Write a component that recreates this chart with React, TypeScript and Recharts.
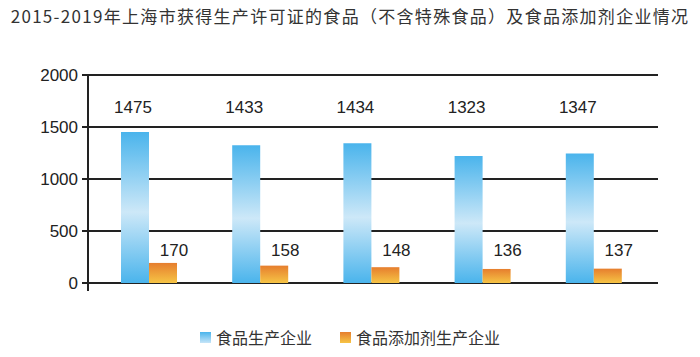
import { BarChart, Bar, XAxis, YAxis, CartesianGrid, Legend, LabelList } from 'recharts';

// values (bar heights) and the printed labels
const years = ['2015', '2016', '2017', '2018', '2019'];
const foodBars = [1452, 1324, 1343, 1222, 1246];
const additiveBars = [193, 167, 152, 135, 138];
const foodLabels = [1475, 1433, 1434, 1323, 1347];
const additiveLabels = [170, 158, 148, 136, 137];
const yTicks = [0, 500, 1000, 1500, 2000];

const data = years.map((year, i) => ({
  year,
  food: foodBars[i],
  additive: additiveBars[i],
}));

const TITLE = '2015-2019年上海市获得生产许可证的食品（不含特殊食品）及食品添加剂企业情况';
const FONT = '"Liberation Sans", Arial, "Noto Sans CJK SC", sans-serif';
const INK = '#222';

// label sits at a fixed level on the value axis, not on top of the bar
const makeLabel = (bars: number[], labels: number[], level: number, dx: number) => (props: any) => {
  const { x, y, width, height, index } = props;
  const perUnit = height / bars[index];
  const bottom = y + height;
  return (
    <text
      x={x + width / 2 + dx}
      y={bottom - level * perUnit}
      textAnchor="middle"
      dominantBaseline="central"
      fontSize={17}
      fontFamily={FONT}
      fill={INK}
    >
      {labels[index]}
    </text>
  );
};

const LegendContent = () => (
  <div style={{ display: 'flex', justifyContent: 'center', alignItems: 'center', height: 20, fontFamily: '"Noto Sans CJK SC", sans-serif', fontSize: 16, color: '#333' }}>
    <span style={{ width: 11, height: 11, background: 'linear-gradient(#4ab4ec, #c6e5f8)', marginRight: 5 }} />
    <span style={{ marginRight: 28 }}>食品生产企业</span>
    <span style={{ width: 11, height: 11, background: 'linear-gradient(#e67e2e, #f6c445)', marginRight: 5 }} />
    <span>食品添加剂生产企业</span>
  </div>
);

export default function App() {
  return (
    <div style={{ position: 'absolute', left: 0, top: 0, width: 700, height: 357, background: '#fff' }}>
      <div
        style={{
          position: 'absolute',
          top: 5,
          left: 0,
          width: 700,
          textAlign: 'center',
          fontFamily: '"Noto Sans CJK SC", sans-serif',
          fontSize: 17,
          letterSpacing: 1.3,
          color: '#333',
          lineHeight: '22px',
          whiteSpace: 'nowrap',
        }}
      >
        {TITLE}
      </div>
      <BarChart
        width={700}
        height={357}
        data={data}
        margin={{ top: 75, right: 42, left: 0, bottom: 54 }}
        barGap={0}
        barSize={28}
      >
        <defs>
          <linearGradient id="blueGrad" x1="0" y1="0" x2="0" y2="1">
            <stop offset="0%" stopColor="#4ab4ec" />
            <stop offset="53%" stopColor="#cde8f8" />
            <stop offset="100%" stopColor="#4ab4ec" />
          </linearGradient>
          <linearGradient id="orangeGrad" x1="0" y1="0" x2="0" y2="1">
            <stop offset="0%" stopColor="#e67e2e" />
            <stop offset="100%" stopColor="#f6c445" />
          </linearGradient>
        </defs>
        <CartesianGrid vertical={false} stroke={INK} strokeWidth={2} />
        <XAxis dataKey="year" hide padding={{ left: 5, right: 9 }} />
        <YAxis
          width={88}
          domain={[0, 2000]}
          ticks={yTicks}
          interval={0}
          axisLine={{ stroke: INK, strokeWidth: 2 }}
          tickLine={{ stroke: INK, strokeWidth: 2 }}
          tickSize={6}
          tickMargin={4}
          tick={{ fontSize: 17, fontFamily: FONT, fill: INK }}
        />
        <Legend
          verticalAlign="bottom"
          content={<LegendContent />}
          wrapperStyle={{ bottom: 10, left: 0, width: 700 }}
        />
        <Bar dataKey="food" fill="url(#blueGrad)" isAnimationActive={false}>
          <LabelList dataKey="food" content={makeLabel(foodBars, foodLabels, 1690, -2)} />
        </Bar>
        <Bar dataKey="additive" fill="url(#orangeGrad)" isAnimationActive={false}>
          <LabelList dataKey="additive" content={makeLabel(additiveBars, additiveLabels, 317, 11)} />
        </Bar>
      </BarChart>
      <div style={{ position: 'absolute', left: 87, top: 283, width: 2, height: 8, background: INK }} />
    </div>
  );
}
